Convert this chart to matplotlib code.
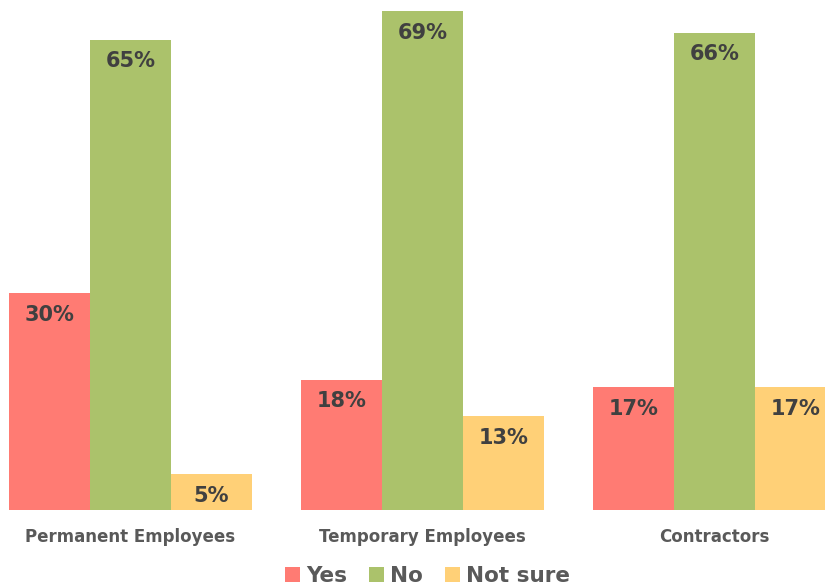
import numpy as np
import matplotlib
matplotlib.use("Agg")
import matplotlib.pyplot as plt

# data
categories = ["Permanent Employees", "Temporary Employees", "Contractors"]
series = ["Yes", "No", "Not sure"]
yes = [30, 18, 17]
no = [65, 69, 66]
not_sure = [5, 13, 17]
colors = ["#FF7B73", "#ABC26B", "#FFD077"]

fig = plt.figure(figsize=(8.25, 5.88), dpi=100)
ax = fig.add_axes([0, 0.1327, 1, 0.8673])

x = np.arange(len(categories))
w = 0.277
for i, (name, vals) in enumerate(zip(series, [yes, no, not_sure])):
    pos = x + (i - 1) * w
    bars = ax.bar(pos, vals, width=w, color=colors[i], label=name)
    for b, v in zip(bars, vals):
        ax.text(b.get_x() + b.get_width() / 2, v - 3.0, f"{v}%",
                ha="center", va="center", fontsize=15, fontweight="bold",
                color="#404040")

ax.set_xlim(-0.447, 2.378)
ax.set_ylim(0, 70.5)
ax.set_xticks(x)
ax.set_xticklabels(categories, fontsize=12, fontweight="bold", color="#595959")
ax.tick_params(axis="x", length=0, pad=13)
ax.set_yticks([])
for s in ax.spines.values():
    s.set_visible(False)

leg = fig.legend(loc="lower center", bbox_to_anchor=(0.518, -0.03), ncol=3,
                 frameon=False, handlelength=0.7, handleheight=0.7,
                 handletextpad=0.3, columnspacing=1.0,
                 prop={"size": 15.5, "weight": "bold"})
for t in leg.get_texts():
    t.set_color("#595959")

fig.savefig("out.png", dpi=100)
